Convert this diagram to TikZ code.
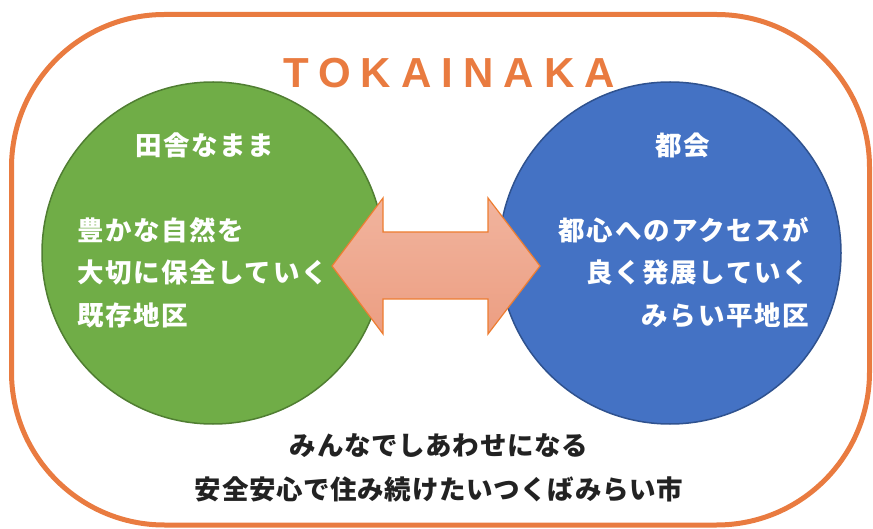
\documentclass[tikz,border=0pt]{standalone}
\usepackage{fontspec}
\newfontfamily\jpw[LetterSpace=6]{Noto Sans CJK JP}
\newfontfamily\jpb[LetterSpace=2.5]{Noto Sans CJK JP}
\newfontfamily\titlefont[LetterSpace=24]{Liberation Sans}
\definecolor{frameor}{HTML}{E97B40}
\definecolor{greenfill}{HTML}{70AD47}
\definecolor{greenline}{HTML}{507E32}
\definecolor{bluefill}{HTML}{4472C4}
\definecolor{blueline}{HTML}{2F528F}
\definecolor{arrtop}{RGB}{241,180,158}
\definecolor{arrbot}{RGB}{236,158,130}
\definecolor{arrline}{HTML}{ED7D31}
\definecolor{txtdark}{HTML}{222222}
\tikzset{
  wtext/.style={text=white, font=\jpw\bfseries\fontsize{26.5}{30}\selectfont, inner sep=0pt},
  btext/.style={text=txtdark, font=\jpb\bfseries\fontsize{26.5}{30}\selectfont, inner sep=0pt},
}
\begin{document}
\begin{tikzpicture}[x=1pt,y=-1pt]
\useasboundingbox (0,0) rectangle (873,529);
\draw[frameor, line width=5pt, rounded corners=153pt] (11.5,14.5) rectangle (869.5,525);
\node[text=frameor, font=\titlefont\bfseries\fontsize{42}{46}\selectfont, inner sep=0pt] (title) at (449,73) {TOKAINAKA};
\node[circle, fill=greenfill, draw=greenline, line width=1.5pt, minimum size=342pt, inner sep=0pt] (green) at (213,253) {};
\node[circle, fill=bluefill, draw=blueline, line width=1.5pt, minimum size=342pt, inner sep=0pt] (blue) at (670,253) {};
\draw[arrline, line width=1.2pt, top color=arrtop, bottom color=arrbot, line join=miter]
  (332,266) -- (383,198) -- (383,232) -- (488,232) -- (488,198) -- (540,266)
  -- (488,334) -- (488,299) -- (383,299) -- (383,334) -- cycle;
\node[wtext] (g0) at (205,145) {田舎なまま};
\node[wtext] (b0) at (683,145) {都会};
\node[wtext, anchor=west] (g1) at (77,230) {豊かな自然を};
\node[wtext, anchor=west] (g2) at (77,272) {大切に保全していく};
\node[wtext, anchor=west] (g3) at (77,315) {既存地区};
\node[wtext, anchor=east] (b1) at (809,230) {都心へのアクセスが};
\node[wtext, anchor=east] (b2) at (809,272) {良く発展していく};
\node[wtext, anchor=east] (b3) at (809,315) {みらい平地区};
\node[btext] (t1) at (439,446) {みんなでしあわせになる};
\node[btext] (t2) at (439,489) {安全安心で住み続けたいつくばみらい市};
\end{tikzpicture}
\end{document}
